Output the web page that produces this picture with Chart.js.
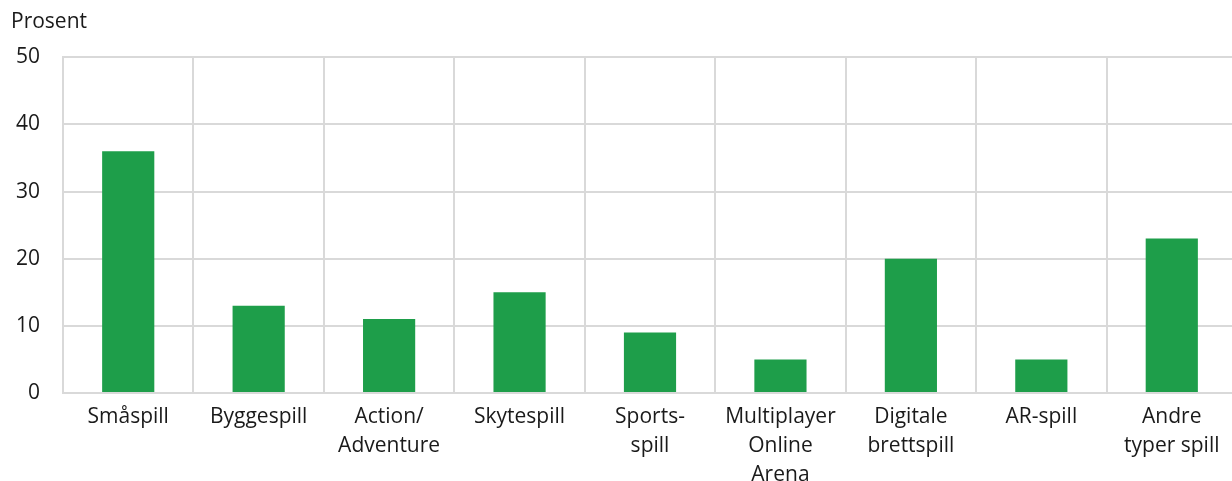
<!DOCTYPE html>
<html>
<head>
<meta charset="utf-8">
<script src="https://cdn.jsdelivr.net/npm/chart.js@4/dist/chart.umd.min.js"></script>
<style>
  html, body { margin: 0; padding: 0; background: #fff; overflow: hidden; }
  #wrap { width: 1232px; height: 481px; overflow: hidden; }
</style>
</head>
<body>
<div id="wrap"><canvas id="gameChart" width="1237" height="481"></canvas></div>
<script>
// Categories (multi-line labels)
const categories = [
    'Småspill',
    'Byggespill',
    ['Action/', 'Adventure'],
    'Skytespill',
    ['Sports-', 'spill'],
    ['Multiplayer', 'Online', 'Arena'],
    ['Digitale', 'brettspill'],
    'AR-spill',
    ['Andre', 'typer spill']
];

// Share in percent
const percentValues = [36, 13, 11, 15, 9, 5, 20, 5, 23];

const yTicks = [0, 10, 20, 30, 40, 50];

const textColor = '#1a1a1a';
const gridColor = '#d9d9d9';

Chart.defaults.font.family = '"Open Sans", sans-serif';
Chart.defaults.font.size = 21;
Chart.defaults.color = textColor;

new Chart(document.getElementById('gameChart').getContext('2d'), {
    type: 'bar',
    data: {
        labels: categories,
        datasets: [{
            label: 'Prosent',
            data: percentValues,
            backgroundColor: '#1e9e4a',
            borderWidth: 0,
            barPercentage: 0.4,
            categoryPercentage: 1.0
        }]
    },
    options: {
        responsive: false,
        animation: false,
        layout: { padding: { left: 11, right: 0, top: 0, bottom: 0 } },
        plugins: {
            legend: { display: false },
            tooltip: { enabled: false },
            title: {
                display: true,
                text: 'Prosent',
                align: 'start',
                color: textColor,
                font: { size: 21, weight: 'normal', lineHeight: 1.2 },
                padding: { top: 9, bottom: 23 }
            }
        },
        scales: {
            x: {
                grid: { color: gridColor, lineWidth: 2, drawTicks: false, offset: true },
                border: { color: gridColor, width: 2 },
                ticks: { padding: 9, maxRotation: 0, autoSkip: false, font: { size: 21, lineHeight: 1.4 } },
                afterFit: (scale) => { scale.height = 88; }
            },
            y: {
                min: 0,
                max: 50,
                afterBuildTicks: (scale) => { scale.ticks = yTicks.map(v => ({ value: v })); },
                grid: { color: gridColor, lineWidth: 2, drawTicks: false },
                border: { color: gridColor, width: 2 },
                ticks: { padding: 23, font: { size: 21 } },
                afterFit: (scale) => { scale.width = 52; }
            }
        }
    }
});
</script>
</body>
</html>
